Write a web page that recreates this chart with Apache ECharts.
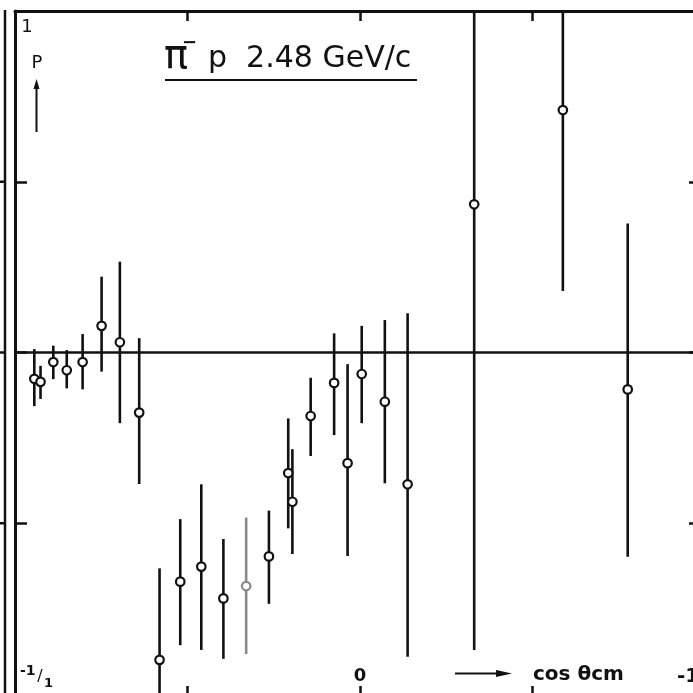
<!DOCTYPE html>
<html>
<head>
<meta charset="utf-8">
<script src="https://cdn.jsdelivr.net/npm/echarts@6/dist/echarts.min.js"></script>
<style>
    html, body { margin: 0; padding: 0; background: #fff; }
    #chart { width: 693px; height: 693px; }
</style>
</head>
<body>
<div id="chart"></div>
<script>
    // cos theta (cm) of every point
    var cosTheta = [-0.944, -0.926, -0.889, -0.850, -0.804, -0.749, -0.696, -0.640, -0.581, -0.521,
        -0.460, -0.396, -0.330, -0.264, -0.208, -0.196, -0.143, -0.075, -0.036, 0.005,
        0.072, 0.138, 0.331, 0.588, 0.776];
    // polarisation P
    var polar = [-0.077, -0.086, -0.028, -0.052, -0.028, 0.078, 0.030, -0.176, -0.900, -0.671,
        -0.627, -0.720, -0.684, -0.597, -0.353, -0.437, -0.186, -0.089, -0.324, -0.063,
        -0.144, -0.386, 0.434, 0.710, -0.108];
    // upper / lower end of each error bar
    var errHigh = [0.010, -0.039, 0.020, 0.007, 0.054, 0.222, 0.266, 0.042, -0.632, -0.488,
        -0.386, -0.546, -0.483, -0.463, -0.193, -0.283, -0.074, 0.056, -0.034, 0.078,
        0.095, 0.115, 1.740, 1.240, 0.378];
    var errLow = [-0.157, -0.136, -0.078, -0.105, -0.108, -0.056, -0.207, -0.385, -1.168, -0.857,
        -0.871, -0.897, -0.883, -0.736, -0.515, -0.590, -0.303, -0.242, -0.596, -0.207,
        -0.383, -0.891, -0.871, 0.180, -0.598];
    var tickValues = [-1, -0.5, 0, 0.5, 1];
    var xLabels = {'0': '0'}; // only 0 is printed on the x axis
    var faintPoint = 12; // washed out in the scan

    var ink = '#111';
    var font = '"DejaVu Sans", sans-serif';

    var chart = echarts.init(document.getElementById('chart'));

    var pointData = cosTheta.map(function (c, i) {
        var item = {value: [c, polar[i]]};
        if (i === faintPoint) item.itemStyle = {borderColor: '#8a8a8a'};
        return item;
    });
    var barData = cosTheta.map(function (c, i) {
        return [c, errLow[i], errHigh[i]];
    });

    function axis(pos, showLine, tickLen) {
        return {
            type: 'value', min: tickValues[0], max: tickValues[4], interval: 0.5, position: pos,
            axisLine: {show: showLine, onZero: false, lineStyle: {color: ink, width: 3}},
            axisTick: {inside: true, length: tickLen, lineStyle: {color: ink, width: 2.5}},
            axisLabel: {show: false},
            splitLine: {show: false}
        };
    }

    var bottomAxis = axis('bottom', false, 8);
    bottomAxis.axisLabel = {
        show: true, inside: true, margin: 9, color: ink,
        fontFamily: font, fontSize: 18, fontWeight: 'bold',
        formatter: function (v) { return xLabels[String(v)] || ''; }
    };

    var option = {
        animation: false,
        backgroundColor: '#fff',
        grid: {left: 15, right: -12, top: 11, bottom: -1, containLabel: false, outerBoundsMode: 'none'},
        xAxis: [bottomAxis, axis('top', true, 10)],
        yAxis: [axis('left', true, 12), axis('right', true, 16)],
        series: [
            {
                type: 'custom',
                clip: true,
                data: barData,
                encode: {x: 0, y: [1, 2]},
                renderItem: function (params, api) {
                    var a = api.coord([api.value(0), api.value(1)]);
                    var b = api.coord([api.value(0), api.value(2)]);
                    return {
                        type: 'line',
                        shape: {x1: a[0], y1: a[1], x2: b[0], y2: b[1]},
                        style: {
                            stroke: params.dataIndex === faintPoint ? '#8a8a8a' : ink,
                            lineWidth: 2.6
                        }
                    };
                },
                z: 2
            },
            {
                type: 'scatter',
                data: pointData,
                symbol: 'circle',
                symbolSize: 8.5,
                itemStyle: {color: '#fff', borderColor: ink, borderWidth: 2.2, opacity: 1},
                markLine: {
                    silent: true,
                    symbol: 'none',
                    label: {show: false},
                    lineStyle: {color: ink, width: 2.5, type: 'solid'},
                    data: [{yAxis: 0}]
                },
                z: 3
            }
        ]
    };
    chart.setOption(option);

    // text and decorations
    var yPx = function (v) { return chart.convertToPixel({yAxisIndex: 0}, v); };
    function label(x, y, text, f, align) {
        return {type: 'text', x: x, y: y, style: {text: text, font: f, fill: ink, align: align || 'left', verticalAlign: 'middle'}};
    }
    var graphics = [
        {type: 'line', shape: {x1: 5, y1: 10, x2: 5, y2: 693}, style: {stroke: ink, lineWidth: 2.5}},
        label(27, 27, '1', '18px ' + font, 'center'),
        label(37, 63, 'P', '18px ' + font, 'center'),
        {type: 'line', shape: {x1: 36.5, y1: 132, x2: 36.5, y2: 86}, style: {stroke: ink, lineWidth: 2}},
        {type: 'polygon', shape: {points: [[33.5, 89], [36.5, 79], [39.5, 89]]}, style: {fill: ink}},
        label(164, 58, 'π', '40px ' + font),
        label(182, 43, '−', 'bold 18px ' + font),
        label(208, 59, 'p  2.48 GeV/c', '30px ' + font),
        {type: 'line', shape: {x1: 165, y1: 80, x2: 417, y2: 80}, style: {stroke: ink, lineWidth: 2.2}},
        {type: 'line', shape: {x1: 455, y1: 673.5, x2: 500, y2: 673.5}, style: {stroke: ink, lineWidth: 2}},
        {type: 'polygon', shape: {points: [[496, 670], [512, 673.5], [496, 677]]}, style: {fill: ink}},
        label(533, 675, 'cos θcm', 'bold 20px ' + font),
        label(677, 677, '-1', 'bold 20px ' + font),
        label(20, 671, '-1', 'bold 14px ' + font),
        label(40, 677, '/', '16px ' + font, 'center'),
        label(44, 684, '1', 'bold 13px ' + font)
    ];
    [0.5, 0, -0.5].forEach(function (v) {
        var y = yPx(v);
        graphics.push({type: 'line', shape: {x1: 0, y1: y, x2: 4, y2: y}, style: {stroke: ink, lineWidth: 2.5}});
    });
    chart.setOption({graphic: graphics});
</script>
</body>
</html>
